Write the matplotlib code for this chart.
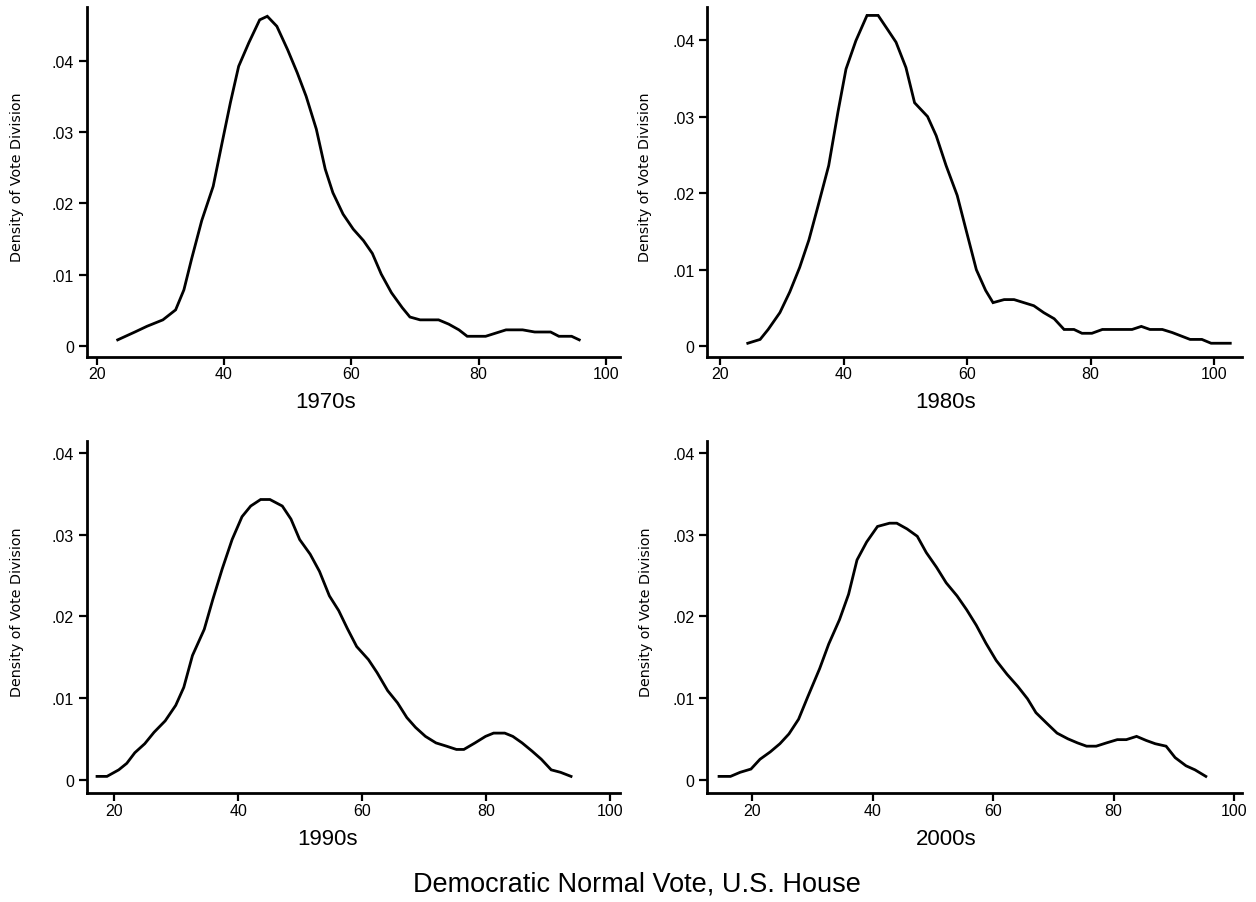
import matplotlib
matplotlib.use('Agg')
import matplotlib.pyplot as plt

# 1970s
x70 = [23.3, 26.0, 27.9, 30.4, 32.4, 33.7, 34.9, 36.5, 38.3, 39.7, 41.0, 42.3, 43.9, 45.6, 46.8,
       48.3, 50.0, 51.5, 52.9, 54.5, 55.9, 57.1, 58.7, 60.3, 61.9, 63.3, 64.7, 66.3, 68.0, 69.2,
       70.8, 73.7, 75.3, 76.9, 78.2, 81.1, 84.3, 86.9, 88.8, 91.3, 92.6, 94.6, 95.8]
y70 = [0.0009, 0.0020, 0.0028, 0.0037, 0.0051, 0.0079, 0.0122, 0.0176, 0.0224, 0.0285, 0.0341,
       0.0392, 0.0425, 0.0457, 0.0462, 0.0448, 0.0415, 0.0383, 0.0350, 0.0304, 0.0248, 0.0215,
       0.0185, 0.0164, 0.0148, 0.0130, 0.0101, 0.0075, 0.0054, 0.0041, 0.0037, 0.0037, 0.0031,
       0.0023, 0.0014, 0.0014, 0.0023, 0.0023, 0.0020, 0.0020, 0.0014, 0.0014, 0.0009]

# 1980s
x80 = [24.5, 26.5, 27.8, 29.7, 31.3, 32.9, 34.4, 35.9, 37.6, 39.1, 40.4, 42.0, 43.8, 45.6, 47.1,
       48.5, 50.1, 51.5, 53.6, 55.0, 56.6, 58.4, 59.8, 61.5, 63.0, 64.2, 66.0, 67.6, 69.2, 70.8,
       72.4, 74.1, 75.7, 77.3, 78.6, 80.2, 81.9, 86.7, 88.2, 89.6, 91.6, 93.2, 96.1, 98.0, 99.5,
       102.6]
y80 = [0.0004, 0.0009, 0.0022, 0.0044, 0.0071, 0.0103, 0.0139, 0.0184, 0.0236, 0.0306, 0.0362,
       0.0399, 0.0432, 0.0432, 0.0414, 0.0397, 0.0364, 0.0318, 0.0300, 0.0275, 0.0236, 0.0197,
       0.0153, 0.0100, 0.0073, 0.0057, 0.0061, 0.0061, 0.0057, 0.0053, 0.0044, 0.0036, 0.0022,
       0.0022, 0.0017, 0.0017, 0.0022, 0.0022, 0.0026, 0.0022, 0.0022, 0.0018, 0.0009, 0.0009,
       0.0004, 0.0004]

# 1990s
x90 = [17.2, 18.8, 20.7, 22.0, 23.3, 24.9, 26.4, 28.2, 29.9, 31.2, 32.6, 34.5, 35.9, 37.4, 39.0,
       40.6, 42.0, 43.6, 45.1, 47.1, 48.5, 49.9, 51.6, 53.1, 54.7, 56.2, 57.6, 59.1, 61.0, 62.4,
       64.1, 65.7, 67.2, 68.6, 70.2, 71.9, 73.6, 75.2, 76.4, 78.2, 79.9, 81.2, 83.0, 84.3, 85.8,
       87.4, 88.9, 90.5, 92.0, 93.7]
y90 = [0.0004, 0.0004, 0.0012, 0.0020, 0.0033, 0.0044, 0.0058, 0.0072, 0.0091, 0.0113, 0.0152,
       0.0184, 0.0221, 0.0258, 0.0294, 0.0322, 0.0335, 0.0343, 0.0343, 0.0335, 0.0319, 0.0294,
       0.0276, 0.0255, 0.0225, 0.0207, 0.0185, 0.0163, 0.0147, 0.0131, 0.0109, 0.0094, 0.0076,
       0.0064, 0.0053, 0.0045, 0.0041, 0.0037, 0.0037, 0.0045, 0.0053, 0.0057, 0.0057, 0.0053,
       0.0045, 0.0035, 0.0025, 0.0012, 0.0009, 0.0004]

# 2000s
x00 = [14.5, 16.4, 18.0, 19.8, 21.3, 23.0, 24.6, 26.1, 27.7, 29.2, 31.2, 32.7, 34.5, 36.0, 37.4,
       39.0, 40.8, 42.8, 44.0, 45.7, 47.4, 48.9, 50.6, 52.2, 54.0, 55.6, 57.2, 58.8, 60.5, 62.3,
       64.1, 65.7, 67.1, 68.9, 70.6, 72.4, 74.0, 75.5, 77.1, 78.8, 80.6, 82.1, 83.8, 85.4, 86.9,
       88.7, 90.2, 92.0, 93.5, 95.3]
y00 = [0.0004, 0.0004, 0.0009, 0.0013, 0.0025, 0.0034, 0.0044, 0.0056, 0.0074, 0.0101, 0.0136,
       0.0166, 0.0196, 0.0227, 0.0269, 0.0291, 0.0310, 0.0314, 0.0314, 0.0307, 0.0298, 0.0278,
       0.0260, 0.0241, 0.0225, 0.0208, 0.0189, 0.0167, 0.0146, 0.0129, 0.0114, 0.0099, 0.0082,
       0.0069, 0.0057, 0.0050, 0.0045, 0.0041, 0.0041, 0.0045, 0.0049, 0.0049, 0.0053, 0.0048,
       0.0044, 0.0041, 0.0027, 0.0017, 0.0012, 0.0004]

decades = ['1970s', '1980s', '1990s', '2000s']
xs = [x70, x80, x90, x00]
ys = [y70, y80, y90, y00]
yticks = [0, 0.01, 0.02, 0.03, 0.04]
ytick_labels = ['0', '.01', '.02', '.03', '.04']
xticks = [20, 40, 60, 80, 100]

W, H = 1256, 903
fig = plt.figure(figsize=(W / 100, H / 100), dpi=100)

narrow = ['Liberation Sans Narrow', 'Liberation Sans', 'DejaVu Sans']

# axes boxes in pixels: left, right, bottom, top, and the data limits
boxes = [
    (86.5, 620, 357.5, 8, (18.4, 102.2), (-0.00143, 0.0475)),
    (707, 1242, 357.5, 8, (17.9, 104.5), (-0.00133, 0.0443)),
    (86.5, 620, 794.3, 441.7, (15.5, 101.6), (-0.00167, 0.0415)),
    (707, 1242, 794.3, 441.7, (12.5, 101.3), (-0.00167, 0.0415)),
]
title_pos = [(326, 403), (946, 403), (327, 840), (946, 840)]
ylab_x = [17, 645, 17, 646]

for i in range(4):
    l, r, b, t, xl, yl = boxes[i]
    ax = fig.add_axes([l / W, 1 - b / H, (r - l) / W, (b - t) / H])
    ax.plot(xs[i], ys[i], color='black', lw=2.0, solid_joinstyle='miter')
    ax.set_xlim(xl)
    ax.set_ylim(yl)
    ax.set_xticks(xticks)
    ax.set_yticks(yticks)
    ax.set_yticklabels(ytick_labels)
    for s in ['top', 'right']:
        ax.spines[s].set_visible(False)
    for s in ['left', 'bottom']:
        ax.spines[s].set_linewidth(2.0)
    ax.tick_params(axis='both', direction='out', length=6, width=1.6, colors='black')
    ax.tick_params(axis='y', pad=3)
    ax.tick_params(axis='x', pad=1)
    for lab in ax.get_xticklabels() + ax.get_yticklabels():
        lab.set_fontfamily(narrow)
        lab.set_fontsize(11.5)
    fig.text(title_pos[i][0] / W, 1 - title_pos[i][1] / H, decades[i], ha='center', va='center',
             fontsize=16, family=narrow)
    fig.text(ylab_x[i] / W, 1 - ((b + t) / 2 - 6) / H, 'Density of Vote Division', rotation=90,
             ha='center', va='center', fontsize=10.3, family='DejaVu Sans')

fig.text(637 / W, 1 - 892 / H, 'Democratic Normal Vote, U.S. House', ha='center', va='baseline',
         fontsize=19.5, family=['Liberation Sans', 'DejaVu Sans'])

fig.savefig('out.png', dpi=100, facecolor='white')
